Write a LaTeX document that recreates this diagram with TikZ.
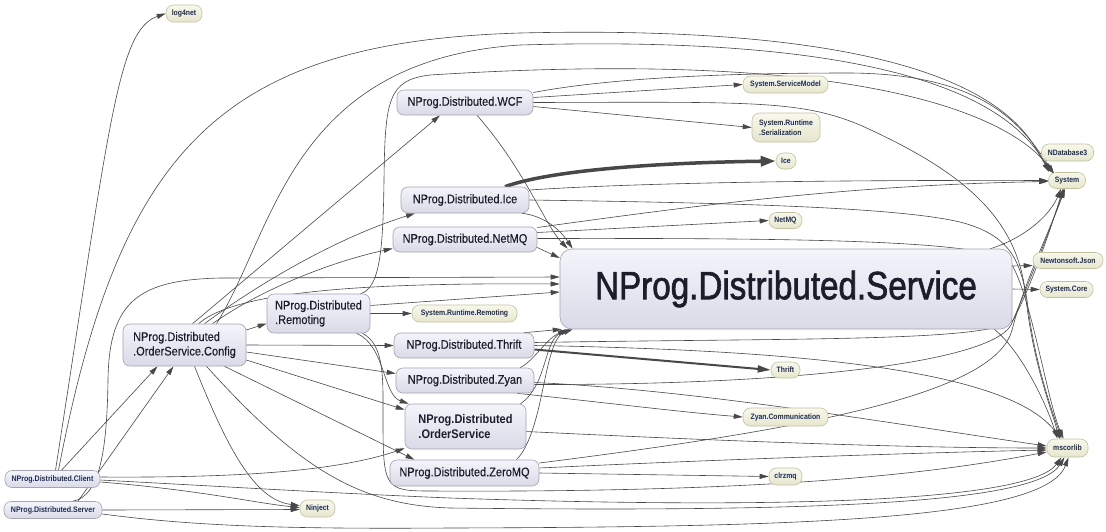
\documentclass[tikz,border=0pt]{standalone}
\usepackage{fontspec}
\usetikzlibrary{arrows.meta}
\newfontfamily\nf[FakeStretch=0.88,FakeBold=0.25]{Liberation Sans}
\newfontfamily\nfb[FakeStretch=0.88]{Liberation Sans}
\newfontfamily\nfs[FakeStretch=0.84,FakeBold=1.5]{Liberation Sans}
\definecolor{projt}{HTML}{F4F4FB}
\definecolor{projbot}{HTML}{DADAE8}
\definecolor{projb}{HTML}{A4A4B4}
\definecolor{libt}{HTML}{F8F8EC}
\definecolor{libbot}{HTML}{E6E6CE}
\definecolor{libb}{HTML}{C2C2A2}
\definecolor{projtext}{HTML}{1C1C2A}
\definecolor{libtext}{HTML}{1E2C52}
\definecolor{ec}{HTML}{484848}
\pgfdeclarelayer{bg}
\pgfsetlayers{bg,main}
\tikzset{
  proj/.style={draw=projb, line width=0.6pt, rounded corners=7pt, top color=projt, bottom color=projbot,
    text=projtext, inner sep=0pt, align=left, font=\nf\fontsize{12.5}{14.5}\selectfont},
  projs/.style={proj, text=libtext, font=\nfb\bfseries\fontsize{8}{9}\selectfont},
  lib/.style={draw=libb, line width=0.6pt, rounded corners=7.5pt, top color=libt, bottom color=libbot,
    text=libtext, inner sep=0pt, align=left, font=\nfb\bfseries\fontsize{7.8}{9}\selectfont},
  e/.style={draw=ec, line width=0.6pt, -{Triangle[length=9pt,width=5pt]}},
  ethick/.style={draw=ec, line width=3.5pt, -{Triangle[length=15pt,width=10pt]}},
  emid/.style={draw=ec, line width=2pt, -{Triangle[length=13pt,width=7pt]}},
}
\begin{document}
\begin{tikzpicture}[x=1pt,y=-1pt]
\useasboundingbox (0,0) rectangle (1106,531);

% ---------- nodes ----------
\node[lib, minimum width=36pt, minimum height=17pt] (log4net) at (184,13.5) {log4net};
\node[proj, minimum width=136pt, minimum height=25pt] (wcf) at (465,102.5) {NProg.Distributed.WCF};
\node[lib, minimum width=85pt, minimum height=17pt] (ssm) at (785.5,84.5) {System.ServiceModel};
\node[lib, minimum width=68pt, minimum height=29pt, font=\nfb\bfseries\fontsize{7.8}{10}\selectfont] (srs) at (786,127.5) {System.Runtime\\.Serialization};
\node[lib, minimum width=20pt, minimum height=16pt] (iceLib) at (786,161) {Ice};
\node[lib, minimum width=52pt, minimum height=17pt] (ndb) at (1067.5,152.5) {NDatabase3};
\node[lib, minimum width=37pt, minimum height=16pt] (system) at (1067,180.5) {System};
\node[proj, minimum width=128pt, minimum height=26pt] (ice) at (465,200) {NProg.Distributed.Ice};
\node[lib, minimum width=33pt, minimum height=16pt] (netmqLib) at (785.5,220.5) {NetMQ};
\node[proj, minimum width=144pt, minimum height=25pt] (netmq) at (465,239.5) {NProg.Distributed.NetMQ};
\node[proj, rounded corners=12pt, minimum width=452pt, minimum height=80pt, font=\nfs\fontsize{39.5}{42}\selectfont] (service) at (786,289) {NProg.Distributed.Service};
\node[lib, minimum width=70pt, minimum height=16pt] (json) at (1068,260.5) {Newtonsoft.Json};
\node[lib, minimum width=53pt, minimum height=16pt] (score) at (1066.5,289.5) {System.Core};
\node[proj, minimum width=103pt, minimum height=39pt] (remoting) at (318.5,313.5) {NProg.Distributed\\.Remoting};
\node[lib, minimum width=105pt, minimum height=17pt] (srr) at (464.5,313.5) {System.Runtime.Remoting};
\node[proj, minimum width=123pt, minimum height=42pt] (config) at (184.5,345) {NProg.Distributed\\.OrderService.Config};
\node[proj, minimum width=140pt, minimum height=25pt] (thrift) at (464,345.5) {NProg.Distributed.Thrift};
\node[lib, minimum width=29pt, minimum height=16pt] (thriftLib) at (785.5,370) {Thrift};
\node[proj, minimum width=138pt, minimum height=25pt] (zyan) at (465,380.5) {NProg.Distributed.Zyan};
\node[proj, minimum width=121pt, minimum height=45pt, font=\nfb\bfseries\fontsize{12.5}{15}\selectfont] (orderservice) at (465.5,426.5) {NProg.Distributed\\.OrderService};
\node[lib, minimum width=85pt, minimum height=18pt] (zyanLib) at (785.5,417) {Zyan.Communication};
\node[lib, minimum width=41pt, minimum height=18pt] (mscorlib) at (1067.5,448) {mscorlib};
\node[proj, minimum width=149pt, minimum height=26pt] (zeromq) at (464.5,473) {NProg.Distributed.ZeroMQ};
\node[lib, minimum width=33pt, minimum height=17pt] (clrzmq) at (785.5,476.5) {clrzmq};
\node[projs, minimum width=95pt, minimum height=17pt] (client) at (52.5,479) {NProg.Distributed.Client};
\node[lib, minimum width=35pt, minimum height=17pt] (ninject) at (317.5,508.5) {Ninject};
\node[projs, minimum width=98pt, minimum height=17pt] (server) at (53,510) {NProg.Distributed.Server};

% ---------- edges ----------
\begin{pgfonlayer}{bg}
\fill[white] (0,0) rectangle (1106,531);
% Client
\draw[e] ([xshift=3pt]client.north) .. controls (110,120) and (118,30) .. (log4net.west);
\draw[e] ([xshift=6pt]client.north) .. controls (120,150) and (220,42) .. (520,33) .. controls (985,22) and (1026,130) .. ([xshift=1pt]system.north west);
\draw[e] ([xshift=9pt]client.north) -- ([xshift=-27pt]config.south);
\draw[e] ([yshift=-3pt]client.east) .. controls (200,490) and (255,503) .. ([yshift=1pt]ninject.west);
\draw[e] ([yshift=2pt]client.east) .. controls (250,478) and (340,470) .. ([yshift=1pt]orderservice.south west);
\draw[e] ([yshift=-1pt]client.east) .. controls (250,488) and (330,493) .. (450,498) .. controls (800,510) and (1030,500) .. ([xshift=-6pt]mscorlib.south);
% Server
\draw[e] ([xshift=25pt]server.north) -- ([xshift=-11pt]config.south);
\draw[e] (server.east) -- ([yshift=-1pt]ninject.west);
\draw[e] ([xshift=20pt]server.north) .. controls (100,496) and (107,450) .. (108,380) .. controls (109,300) and (140,280) .. (220,278) -- ([yshift=12pt]service.west);
\draw[e] ([yshift=-4pt]server.east) .. controls (200,527) and (300,529) .. (450,528) .. controls (800,527) and (1045,520) .. ([xshift=1pt]mscorlib.south);
% Config
\draw[e] ([xshift=10pt]config.south) .. controls (228,450) and (255,500) .. ([yshift=3pt]ninject.west);
\draw[e] ([yshift=15pt]config.east) -- ([yshift=-10pt]remoting.west);
\draw[e] ([xshift=8pt]config.north) -- ([xshift=-25pt]wcf.south);
\draw[e] ([xshift=20pt]config.north) .. controls (250,290) and (330,240) .. ([xshift=-50pt]ice.south);
\draw[e] ([xshift=28pt]config.north) .. controls (260,290) and (330,262) .. ([yshift=-9pt]netmq.west);
\draw[e] ([xshift=32pt]config.north) .. controls (275,230) and (290,60) .. (520,45) .. controls (965,32) and (1024,130) .. ([xshift=3pt]system.north west);
\draw[e] ([xshift=14pt]config.north) .. controls (240,287) and (400,283) .. ([yshift=5pt]service.west);
\draw[e] (config.east) -- (thrift.west);
\draw[e] ([yshift=-7pt]config.east) -- ([yshift=7pt]zyan.west);
\draw[e] ([yshift=-15pt]config.east) -- ([yshift=-6pt]orderservice.north west);
\draw[e] ([xshift=40pt]config.south) -- ([xshift=-50pt]zeromq.north);
\draw[e] ([xshift=22pt]config.south) .. controls (300,470) and (360,505) .. (450,508) .. controls (800,512) and (1035,505) .. ([xshift=-3pt]mscorlib.south);
% Remoting
\draw[e] (remoting.east) -- (srr.west);
\draw[e] ([yshift=8pt]remoting.east) -- ([yshift=-3pt]service.west);
\draw[e] ([xshift=42pt]remoting.north) .. controls (380,288) and (383,250) .. (384,180) .. controls (385,100) and (388,80) .. (430,75) .. controls (905,45) and (1022,130) .. ([xshift=5pt,yshift=-1pt]system.north west);
\draw[e] ([xshift=38pt]remoting.south) .. controls (385,345) and (383,395) .. ([xshift=4pt]orderservice.north west);
\draw[e] ([xshift=44pt]remoting.south) .. controls (385,345) and (383,380) .. (383,420) .. controls (383,488) and (385,491) .. (430,491) .. controls (800,493) and (950,470) .. ([yshift=-4pt]mscorlib.west);
% WCF
\draw[e] ([yshift=5pt]wcf.east) -- (ssm.west);
\draw[e] ([yshift=-4pt]wcf.east) -- (srs.west);
\draw[e] ([xshift=12pt]wcf.south) .. controls (525,170) and (545,225) .. ([xshift=8pt]service.north west);
\draw[e] ([yshift=10pt]wcf.east) .. controls (600,80) and (700,73) .. (850,73) .. controls (985,74) and (1022,125) .. ([xshift=6pt,yshift=-2pt]system.north west);
\draw[e] (wcf.east) .. controls (750,102) and (800,100) .. (860,125) .. controls (960,170) and (1015,215) .. (1025,290) .. controls (1032,360) and (1050,405) .. ([xshift=-8pt]mscorlib.north);
% Ice
\draw[ethick] ([xshift=40pt]ice.north) .. controls (545,172) and (640,163) .. (iceLib.west);
\draw[e] ([yshift=10pt]ice.east) .. controls (650,182) and (850,180) .. (system.west);
\draw[e] (ice.east) .. controls (750,203) and (900,208) .. (960,222) .. controls (1010,235) and (1020,260) .. (1027,300) .. controls (1034,360) and (1050,405) .. ([xshift=-6pt]mscorlib.north);
\draw[e] ([xshift=57pt]ice.south) .. controls (545,216) and (560,230) .. ([xshift=13pt]service.north west);
% NetMQ
\draw[e] ([yshift=7pt]netmq.east) -- (netmqLib.west);
\draw[e] ([yshift=12pt]netmq.east) .. controls (700,205) and (850,185) .. ([yshift=-1pt]system.west);
\draw[e] ([yshift=1pt]netmq.east) .. controls (800,238) and (985,240) .. (1010,262) .. controls (1030,290) and (1047,400) .. ([xshift=-4pt]mscorlib.north);
\draw[e] ([yshift=-8pt]netmq.east) -- ([yshift=31pt]service.west);
% Service
\draw[e] ([yshift=23pt]service.east) -- ([yshift=-5pt]json.west);
\draw[e] (service.east) -- (score.west);
\draw[e] ([xshift=-22pt]service.north east) .. controls (1025,238) and (1050,215) .. ([xshift=-6pt]system.south);
\draw[e] ([xshift=-18pt]service.south east) .. controls (1020,350) and (1045,400) .. ([xshift=-10pt]mscorlib.north);
% Thrift
\draw[emid] ([yshift=-4pt]thrift.east) -- (thriftLib.west);
\draw[e] ([yshift=3pt]thrift.east) .. controls (800,338) and (990,342) .. (1013,320) .. controls (1030,290) and (1052,225) .. ([xshift=-4pt]system.south);
\draw[e] (thrift.east) .. controls (800,350) and (1010,370) .. ([xshift=-7pt]mscorlib.north);
\draw[e] ([xshift=60pt]thrift.north) -- ([xshift=2pt]service.south west);
% Zyan
\draw[e] ([xshift=52pt]zyan.south) .. controls (600,402) and (680,412) .. (zyanLib.west);
\draw[e] ([yshift=-4pt]zyan.east) .. controls (800,385) and (990,362) .. (1011,325) .. controls (1028,285) and (1050,230) .. ([xshift=-3pt]system.south);
\draw[e] ([yshift=-2pt]zyan.east) .. controls (700,390) and (900,425) .. ([yshift=2pt]mscorlib.west);
\draw[e] ([xshift=55pt]zyan.north) .. controls (535,360) and (545,340) .. ([xshift=7pt]service.south west);
% OrderService
\draw[e] ([xshift=55pt]orderservice.north) .. controls (548,385) and (543,340) .. ([xshift=10pt]service.south west);
\draw[e] ([yshift=-5pt]orderservice.east) .. controls (700,440) and (900,448) .. (mscorlib.west);
% ZeroMQ
\draw[e] ([xshift=52pt]zeromq.north) .. controls (545,430) and (543,340) .. ([xshift=13pt]service.south west);
\draw[e] (zeromq.east) -- (clrzmq.west);
\draw[e] ([yshift=10pt]zeromq.east) .. controls (800,430) and (995,395) .. (1012,330) .. controls (1025,280) and (1050,230) .. ([xshift=-2pt]system.south);
\draw[e] ([yshift=5pt]zeromq.east) .. controls (750,458) and (950,452) .. ([yshift=-2pt]mscorlib.west);
\end{pgfonlayer}
\end{tikzpicture}
\end{document}
